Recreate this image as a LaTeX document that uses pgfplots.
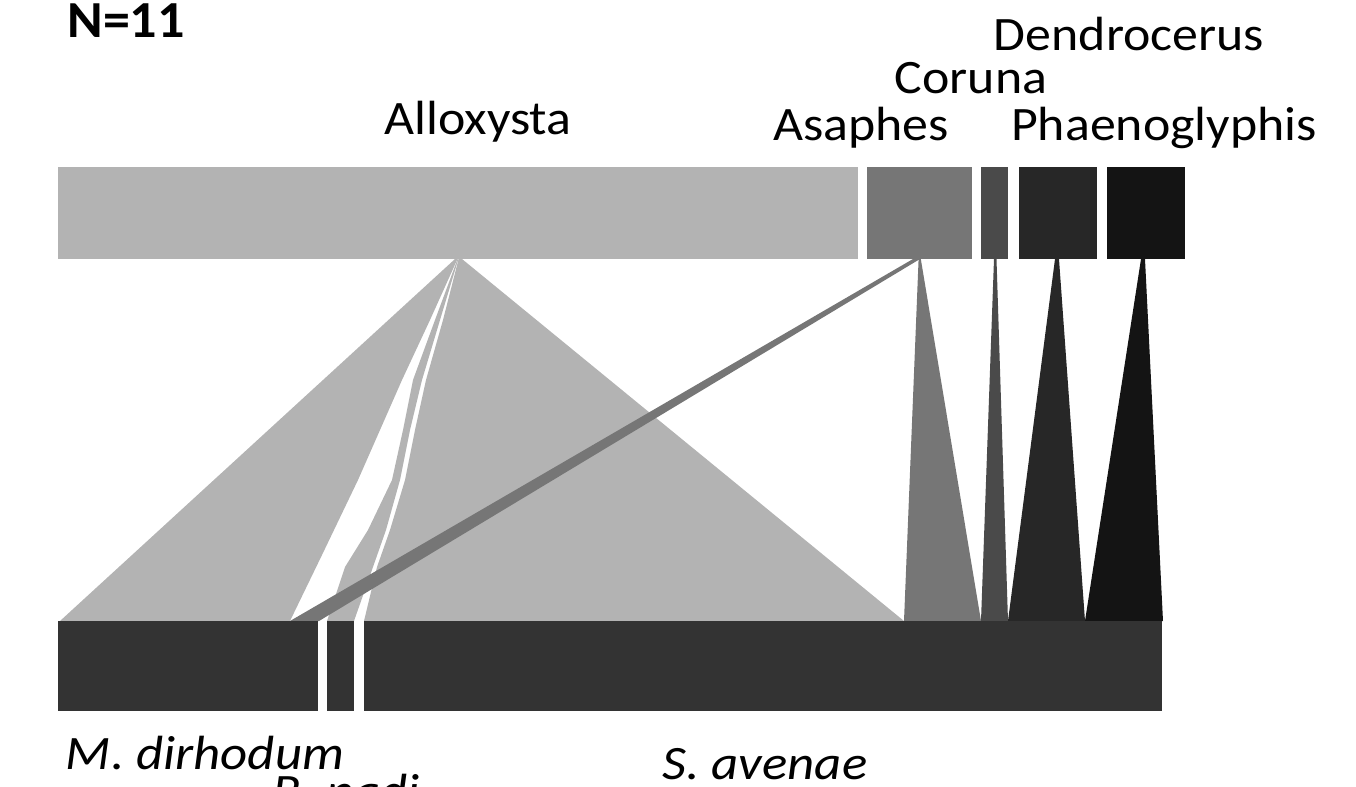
\documentclass[border=0pt]{standalone}
\usepackage{pgfplots}
\pgfplotsset{compat=1.18}
\usepackage{fontspec}
\setmainfont{Carlito}
\definecolor{callox}{HTML}{B3B3B3}
\definecolor{casap}{HTML}{767676}
\definecolor{ccor}{HTML}{4A4A4A}
\definecolor{cden}{HTML}{272727}
\definecolor{cpha}{HTML}{141414}
\definecolor{cbot}{HTML}{333333}
\newcommand{\lab}[1]{\fontsize{24}{28}\selectfont\scalebox{1.08}[1]{#1}}
\newcommand{\labi}[1]{\fontsize{24}{28}\selectfont\scalebox{1.1}[1]{\itshape #1}}
\begin{document}
\begin{tikzpicture}
\begin{axis}[
  width=678pt, height=393.5pt, scale only axis,
  xmin=0, xmax=1356, ymin=0, ymax=787, y dir=reverse,
  hide axis, clip=false, no markers,
]
% ---- links from Alloxysta
\addplot[fill=callox, draw=none] coordinates {(455,259) (457.5,259) (430,320) (402,380) (380,430) (358,480) (322,555) (290,621) (60,621)};
\addplot[fill=callox, draw=none] coordinates {(457.6,259) (458.4,259) (440,320) (422,380) (410,430) (400,480) (386,530) (373,567) (354,621) (327,621) (345,567) (368,530) (392,480) (403,430) (413,380) (435,320)};
\addplot[fill=callox, draw=none] coordinates {(458.6,259) (462,259) (904,621) (364,621) (377,567) (390,530) (405,480) (415,430) (426,380) (443,320)};
% ---- links from Asaphes
\addplot[fill=casap, draw=none] coordinates {(913,259) (920,259) (319,621) (290,621)};
\addplot[fill=casap, draw=none] coordinates {(918.6,259) (920.8,259) (981,621) (904,621)};
% ---- Coruna, Dendrocerus, Phaenoglyphis
\addplot[fill=ccor, draw=none] coordinates {(994,259) (996.5,259) (1008,621) (981,621)};
\addplot[fill=cden, draw=none] coordinates {(1055,259) (1059,259) (1085,621) (1008,621)};
\addplot[fill=cpha, draw=none] coordinates {(1141,259) (1145,259) (1163,621) (1085,621)};
% ---- top boxes
\addplot[fill=callox, draw=none] coordinates {(58,167) (858,167) (858,259) (58,259)};
\addplot[fill=casap, draw=none] coordinates {(867,167) (972,167) (972,259) (867,259)};
\addplot[fill=ccor, draw=none] coordinates {(981,167) (1008,167) (1008,259) (981,259)};
\addplot[fill=cden, draw=none] coordinates {(1019,167) (1097,167) (1097,259) (1019,259)};
\addplot[fill=cpha, draw=none] coordinates {(1107,167) (1185,167) (1185,259) (1107,259)};
% ---- bottom boxes
\addplot[fill=cbot, draw=none] coordinates {(58,621) (318,621) (318,711) (58,711)};
\addplot[fill=cbot, draw=none] coordinates {(327,621) (354,621) (354,711) (327,711)};
\addplot[fill=cbot, draw=none] coordinates {(364,621) (1162,621) (1162,711) (364,711)};
% ---- labels
\node[anchor=base, inner sep=0] at (axis cs:478,134) {\lab{Alloxysta}};
\node[anchor=base, inner sep=0] at (axis cs:861,140) {\lab{Asaphes}};
\node[anchor=base, inner sep=0] at (axis cs:971,93) {\lab{Coruna}};
\node[anchor=base, inner sep=0] at (axis cs:1129,50) {\lab{Dendrocerus}};
\node[anchor=base, inner sep=0] at (axis cs:1164,140) {\lab{Phaenoglyphis}};
\node[anchor=base west, inner sep=0] at (axis cs:67,37) {\fontsize{26}{30}\selectfont\bfseries\scalebox{1.04}[1]{N=11}};
\node[anchor=base, inner sep=0] at (axis cs:205,769) {\labi{M. dirhodum}};
\node[anchor=base, inner sep=0] at (axis cs:346,807) {\labi{R. padi}};
\node[anchor=base, inner sep=0] at (axis cs:765,779) {\labi{S. avenae}};
\end{axis}
\pgfresetboundingbox
\path[use as bounding box] (current axis.south west) rectangle (current axis.north east);
\end{tikzpicture}
\end{document}
